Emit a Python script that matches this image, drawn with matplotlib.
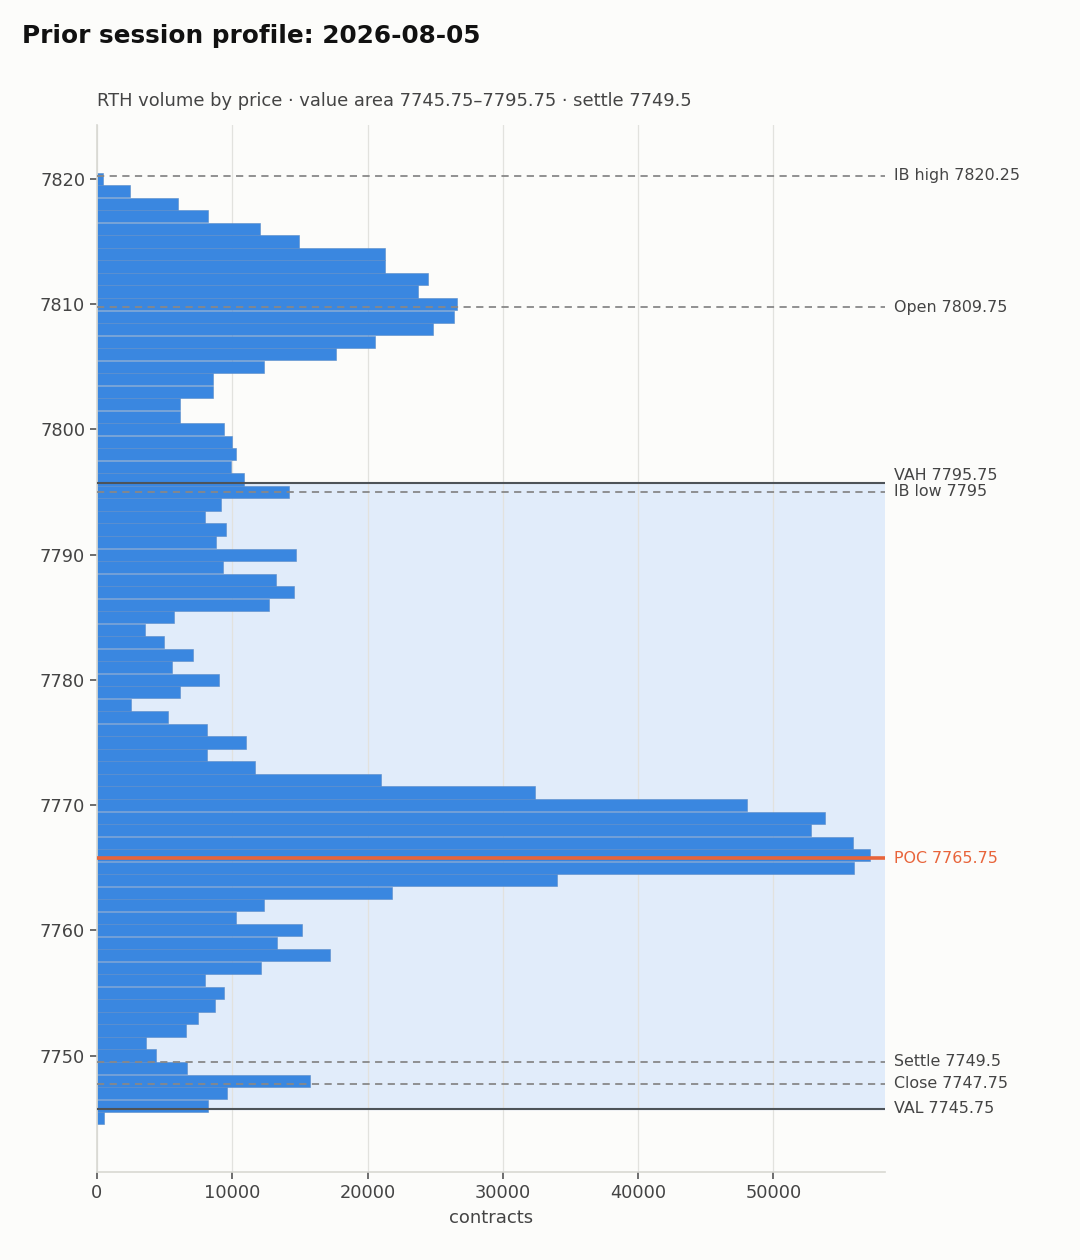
import matplotlib
matplotlib.use("Agg")
import matplotlib.pyplot as plt
from matplotlib.ticker import MultipleLocator

plt.rcParams["font.family"] = ["DejaVu Sans"]

# volume profile, 1-point bins (ascending price)
prices = list(range(7745, 7821))
volumes = [
    490, 8170, 9640, 15770, 6690, 4330, 3590, 6550, 7430, 8760,      # 7745-7754
    9420, 8020, 12150, 17250, 13330, 15180, 10310, 12370, 21820, 34000,  # 7755-7764
    55920, 57100, 55850, 52750, 53780, 48020, 32380, 21010, 11710, 8100,  # 7765-7774
    11050, 8100, 5220, 2490, 6100, 9050, 5510, 7060, 4920, 3520,      # 7775-7784
    5660, 12750, 14590, 13260, 9350, 14740, 8830, 9500, 7950, 9200,   # 7785-7794
    14220, 10900, 9870, 10310, 10010, 9420, 6100, 6170, 8540, 8540,   # 7795-7804
    12370, 17690, 20570, 24850, 26380, 26600, 23720, 24460, 21280, 21280,  # 7805-7814
    14920, 12030, 8190, 5970, 2420, 420,                              # 7815-7820
]

session_date = "2026-08-05"
poc = 7765.75
vah = 7795.75
val = 7745.75
settle = 7749.5

# reference levels drawn as dashed lines
level_names = ["IB high", "Open", "IB low", "Settle", "Close"]
level_values = [7820.25, 7809.75, 7795, 7749.5, 7747.75]

BG = "#fcfcfa"
BAR = "#3a87e0"
VA_FILL = "#e1ecfa"
POC_COL = "#e8643a"
TXT = "#444444"

fig = plt.figure(figsize=(10.8, 12.6), dpi=100, facecolor=BG)
ax = fig.add_axes([0.0898, 0.0698, 0.7296, 0.831])
ax.set_facecolor(BG)

# value area band
ax.axhspan(val, vah, color=VA_FILL, zorder=0)

ax.barh(prices, volumes, height=0.97, color=BAR, edgecolor="#5b8cc8",
        linewidth=0.4, zorder=2)

ax.axhline(vah, color="#4d5358", lw=1.5, zorder=3)
ax.axhline(val, color="#4d5358", lw=1.5, zorder=3)
for v in level_values:
    ax.axhline(v, color="#888888", lw=1.3, ls=(0, (4, 3)), zorder=3)
ax.axhline(poc, color=POC_COL, lw=2.6, zorder=4)

ax.set_xlim(0, max(volumes) * 1.02)
ax.set_ylim(7740.7, 7824.3)
ax.yaxis.set_major_locator(MultipleLocator(10))

# labels on the right, pushed apart when too close
labels = [(f"POC {poc:g}", poc, POC_COL), (f"VAH {vah:g}", vah, TXT),
          (f"VAL {val:g}", val, TXT)]
labels += [(f"{n} {v:g}", v, TXT) for n, v in zip(level_names, level_values)]
labels.sort(key=lambda t: t[1])
min_gap = 1.35
prev = None
for text, y, col in labels:
    ypos = y if prev is None else max(y, prev + min_gap)
    prev = ypos
    ax.annotate(text, xy=(1, ypos), xycoords=("axes fraction", "data"),
                xytext=(6.5, 0), textcoords="offset points",
                ha="left", va="center", fontsize=11.4, color=col,
                annotation_clip=False)

ax.grid(axis="x", color="#e2e2de", lw=0.9, zorder=1)
ax.set_axisbelow(True)
for s in ["top", "right"]:
    ax.spines[s].set_visible(False)
for s in ["left", "bottom"]:
    ax.spines[s].set_color("#d8d8d2")
    ax.spines[s].set_linewidth(1.2)
ax.tick_params(colors="#555555", labelsize=12.8, labelcolor=TXT, length=5, width=1.2)

ax.set_xlabel("contracts", fontsize=13, color=TXT, labelpad=5)
ax.set_title(f"RTH volume by price \u00b7 value area {val:g}\u2013{vah:g} \u00b7 settle {settle:g}",
             loc="left", fontsize=12.85, color=TXT, pad=14)
fig.text(0.02, 1 - 36 / 1260, f"Prior session profile: {session_date}",
         fontsize=17.8, fontweight="bold", ha="left", va="center", color="#111111")

fig.savefig("out.png", dpi=100, facecolor=BG)
